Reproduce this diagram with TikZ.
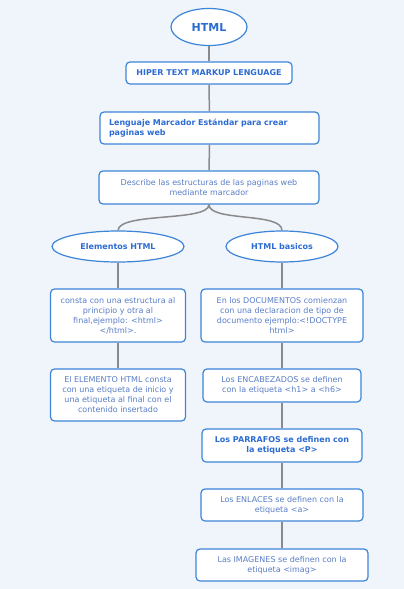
\documentclass[tikz,border=0pt]{standalone}
\usepackage{fontspec}
\setmainfont{DejaVu Sans}
\usetikzlibrary{shapes.geometric}
\definecolor{bgc}{RGB}{240,244,251}
\definecolor{bordc}{RGB}{61,133,216}
\definecolor{boldc}{RGB}{44,108,210}
\definecolor{txtc}{RGB}{90,126,200}
\definecolor{linec}{RGB}{138,138,138}
\tikzset{
  mbox/.style={draw=bordc, line width=1.2pt, rounded corners=4pt, fill=white, align=center,
    font=\fontsize{8}{10}\selectfont, text=txtc, inner sep=0pt},
  bbox/.style={mbox, font=\fontsize{8}{10}\selectfont\bfseries, text=boldc},
  mell/.style={ellipse, draw=bordc, line width=1.2pt, fill=white, inner sep=0pt,
    font=\fontsize{8}{10}\selectfont\bfseries, text=boldc},
  conn/.style={draw=linec, line width=1.5pt}
}
\begin{document}
\begin{tikzpicture}[x=1pt,y=-1pt]
\fill[bgc] (0,0) rectangle (404,589);
\useasboundingbox (0,0) rectangle (404,589);
\node[mell, minimum width=76pt, minimum height=37pt, font=\fontsize{11}{13}\selectfont\bfseries] (html) at (209,27) {HTML};
\node[bbox, minimum width=166pt, minimum height=22pt] (hiper) at (209,73) {HIPER TEXT MARKUP LENGUAGE};
\node[bbox, minimum width=219pt, minimum height=32pt, align=left, text width=201pt] (leng) at (209.5,128) {Lenguaje Marcador Estándar para crear\\paginas web};
\node[mbox, minimum width=220pt, minimum height=33pt] (desc) at (209,187.5) {Describe las estructuras de las paginas web\\mediante marcador};
\node[mell, minimum width=132pt, minimum height=31pt] (elem) at (118,246.5) {Elementos HTML};
\node[mell, minimum width=112pt, minimum height=31pt] (basic) at (282,246.5) {HTML basicos};
\node[mbox, minimum width=135pt, minimum height=53pt] (l1) at (118,315.5) {consta con una estructura al\\principio y otra al\\final,ejemplo: <html>\\</html>.};
\node[mbox, minimum width=162pt, minimum height=53pt] (r1) at (282,315.5) {En los DOCUMENTOS comienzan\\con una declaracion de tipo de\\documento ejemplo:<!DOCTYPE\\html>};
\node[mbox, minimum width=135pt, minimum height=52pt] (l2) at (118,395) {El ELEMENTO HTML consta\\con una etiqueta de inicio y\\una etiqueta al final con el\\contenido insertado};
\node[mbox, minimum width=158pt, minimum height=33pt] (r2) at (282,385.5) {Los ENCABEZADOS se definen\\con la etiqueta <h1> a <h6>};
\node[bbox, minimum width=160pt, minimum height=33pt] (r3) at (282,445.5) {Los PARRAFOS se definen con\\la etiqueta <P>};
\node[mbox, minimum width=162pt, minimum height=32pt] (r4) at (282,505) {Los ENLACES se definen con la\\etiqueta <a>};
\node[mbox, minimum width=172pt, minimum height=32pt] (r5) at (282,565) {Las IMAGENES se definen con la\\etiqueta <imag>};
\draw[conn] (html) -- (hiper);
\draw[conn] (hiper) -- (leng);
\draw[conn] (leng) -- (desc);
\draw[conn] (desc.south) .. controls (209,222) and (119,212) .. (elem.north);
\draw[conn] (desc.south) .. controls (209,222) and (282,212) .. (basic.north);
\draw[conn] (elem) -- (l1);
\draw[conn] (l1) -- (l2);
\draw[conn] (basic) -- (r1);
\draw[conn] (r1) -- (r2);
\draw[conn] (r2) -- (r3);
\draw[conn] (r3) -- (r4);
\draw[conn] (r4) -- (r5);
\end{tikzpicture}
\end{document}
